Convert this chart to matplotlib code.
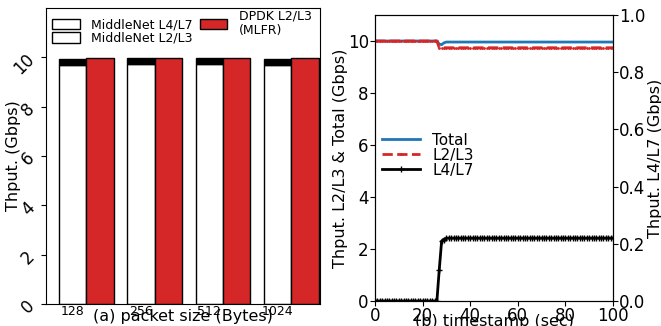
import numpy as np
import matplotlib.pyplot as plt
from matplotlib.patches import Patch
from matplotlib.lines import Line2D

# (a) throughput per packet size
sizes = ['128', '256', '512', '1024']
mn_l23 = [9.70, 9.72, 9.72, 9.70]
mn_l47 = [0.25, 0.24, 0.24, 0.25]
dpdk_l23 = [9.97, 9.97, 9.97, 9.97]

# (b) throughput over time (1 s samples)
t = list(range(101))
total = [10.0] * 27 + [9.88, 9.86, 9.93] + [9.96] * 71
l23 = [10.0] * 27 + [9.74] * 74
l47 = [0.0] * 27 + [0.11, 0.21, 0.215] + [0.22] * 71

red = '#d62728'
fig = plt.figure(figsize=(6.61, 3.26), dpi=100)

# ---- left panel
ax1 = fig.add_axes([46/661, 22/326, 274/661, 296/326])
x = np.arange(len(sizes))
w = 0.4
ax1.bar(x, mn_l23, w, color='white', edgecolor='black', linewidth=1)
ax1.bar(x, mn_l47, w, bottom=mn_l23, color='black', edgecolor='black', linewidth=1)
ax1.bar(x + w, dpdk_l23, w, color=red, edgecolor='black', linewidth=1)
ax1.set_xlim(-0.39, 3.62)
ax1.set_ylim(0, 12)
ax1.set_yticks([0, 2, 4, 6, 8, 10])
ax1.set_xticks(x)
ax1.set_xticklabels(sizes, fontsize=9)
ax1.tick_params(axis='x', length=0, pad=1)
ax1.tick_params(axis='y', labelsize=12, labelrotation=45, pad=2)
ax1.set_ylabel('Thput. (Gbps)', fontsize=11.5)
ax1.yaxis.set_label_coords(-0.09, 0.5)
ax1.set_xlabel('(a) packet size (Bytes)', fontsize=11.5, labelpad=-7)
handles = [Patch(facecolor='white', edgecolor='black', label='MiddleNet L4/L7'),
           Patch(facecolor='white', edgecolor='black', label='MiddleNet L2/L3'),
           Patch(facecolor=red, edgecolor='black', label='DPDK L2/L3\n(MLFR)')]
ax1.legend(handles=handles, ncol=2, frameon=False, fontsize=9, loc='upper left',
           bbox_to_anchor=(-0.01, 1.025), handlelength=2.2, handleheight=0.9,
           handletextpad=0.9, columnspacing=0.6, labelspacing=0.05, borderaxespad=0.3)

# ---- right panel
ax2 = fig.add_axes([375/661, 25/326, 238/661, 286/326])
ax2.plot(t, total, color='#1f77b4', linewidth=2, label='Total')
ax2.plot(t, l23, color=red, linestyle='--', linewidth=2, marker='.', markersize=2, label='L2/L3')
ax2.set_xlim(0, 100)
ax2.set_ylim(0, 11)
ax2.set_yticks([0, 2, 4, 6, 8, 10])
ax2.set_xticks([0, 20, 40, 60, 80, 100])
ax2.tick_params(labelsize=12, pad=1)
ax2.set_ylabel('Thput. L2/L3 & Total (Gbps)', fontsize=11.5, labelpad=0)
ax2.set_xlabel('(b) timestamp (sec)', fontsize=11.5, labelpad=-8)

ax3 = ax2.twinx()
ax3.plot(t, l47, color='black', linewidth=2, marker='+', markersize=4, label='L4/L7')
ax3.set_ylim(0, 1.0)
ax3.set_yticks([0.0, 0.2, 0.4, 0.6, 0.8, 1.0])
ax3.tick_params(labelsize=12, pad=1)
ax3.set_ylabel('Thput. L4/L7 (Gbps)', fontsize=11.5, labelpad=2)

lh = [Line2D([], [], color='#1f77b4', linewidth=2),
      Line2D([], [], color=red, linestyle='--', linewidth=2, marker='.', markersize=2),
      Line2D([], [], color='black', linewidth=2, marker='+', markersize=4)]
ax2.legend(lh, ['Total', 'L2/L3', 'L4/L7'], frameon=False, fontsize=11,
           loc='center left', bbox_to_anchor=(-0.03, 0.51), handlelength=2.5,
           labelspacing=0.0, handletextpad=0.8)

fig.savefig('out.png', dpi=100)
